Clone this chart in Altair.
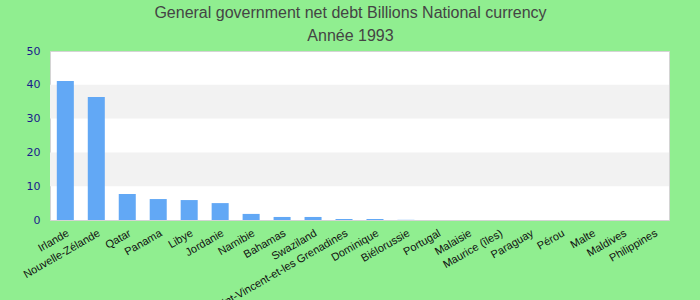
import altair as alt
import pandas as pd

countries = ["Irlande", "Nouvelle-Zélande", "Qatar", "Panama", "Libye", "Jordanie",
             "Namibie", "Bahamas", "Swaziland", "Saint-Vincent-et-les Grenadines",
             "Dominique", "Biélorussie", "Portugal", "Malaisie", "Maurice (îles)",
             "Paraguay", "Pérou", "Malte", "Maldives", "Philippines"]
values = [41.1, 36.4, 7.7, 6.2, 5.9, 5.0, 1.8, 0.9, 0.9, 0.3,
          0.3, 0.05, 0.0, 0.0, 0.0, 0.0, 0.0, 0.0, 0.0, 0.0]
y_ticks = [0, 10, 20, 30, 40, 50]
band_lo = [10, 30]
band_hi = [20, 40]

df = pd.DataFrame({"pays": countries, "valeur": values})
bands = pd.DataFrame({"lo": band_lo, "hi": band_hi})

yscale = alt.Scale(domain=[0, 50])
yaxis = alt.Axis(title=None, values=y_ticks,
                 labelFont="DejaVu Sans", labelFontSize=11,
                 labelColor="#1a1a8c", ticks=False, domain=False,
                 grid=False, labelPadding=10, labelOverlap=False,
                 labelFlush=False)

stripes = alt.Chart(bands).mark_rect(color="#f2f2f2").encode(
    y=alt.Y("lo:Q", scale=yscale, axis=yaxis),
    y2="hi:Q",
)

bars = alt.Chart(df).mark_bar(color="#62a8f5").encode(
    x=alt.X("pays:N", sort=countries,
            scale=alt.Scale(paddingInner=0.45, paddingOuter=0.22),
            axis=alt.Axis(title=None, labelAngle=-30, labelAlign="right",
                          labelBaseline="top", labelFont="Liberation Sans",
                          labelFontSize=11, labelColor="#111", ticks=False,
                          domain=False, labelPadding=7, labelOverlap=False,
                          labelLimit=200)),
    y=alt.Y("valeur:Q", scale=yscale, axis=yaxis),
)

chart = alt.layer(stripes, bars).properties(
    width=619, height=169,
    background="#90ee90",
    padding={"left": 50, "top": 51, "right": 31, "bottom": 80},
    autosize=alt.AutoSizeParams(type="none"),
    title=alt.Title(["General government net debt Billions National currency", "Année 1993"],
                    font="Liberation Sans", fontSize=16, fontWeight="normal",
                    color="#444444", anchor="middle", lineHeight=23, offset=1,
                    dx=-9, frame="group"),
).configure_view(fill="white", stroke="#d4d4d4", strokeWidth=1)

chart.save("out.html", embed_options={"renderer": "svg", "actions": False})
